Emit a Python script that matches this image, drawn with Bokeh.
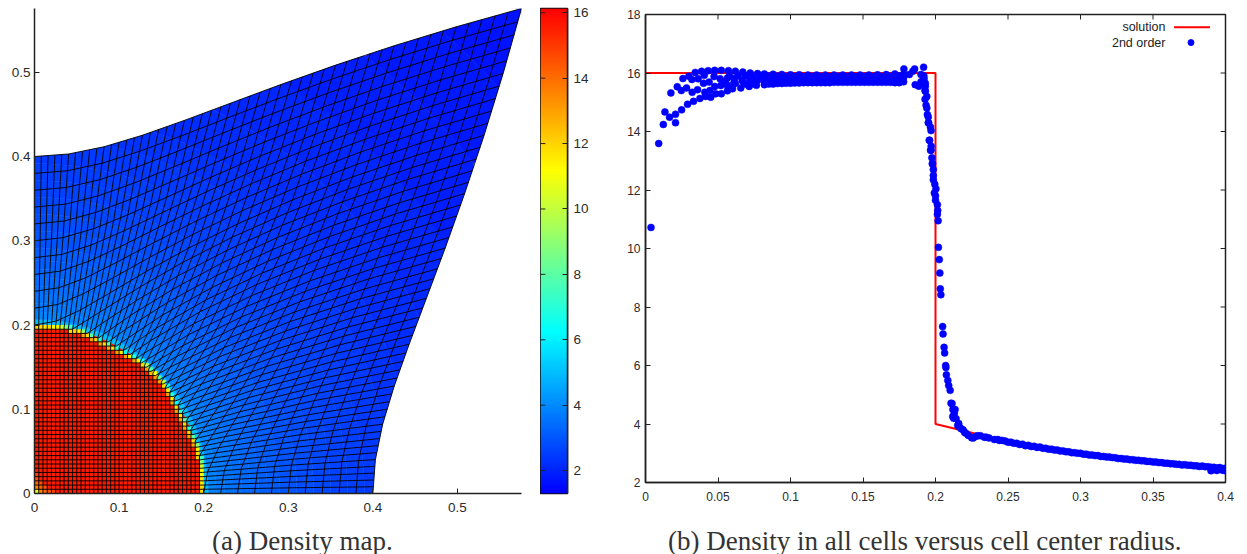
# Values below are typed estimates.
# The mesh is shown as sparse hand-placed polyline vertices; the reference's
# x/y symmetry is used by drawing each typed line a second time with x and y swapped.
import numpy as np
from bokeh.plotting import figure
from bokeh.layouts import row, column
from bokeh.embed import file_html
from bokeh.resources import INLINE
from bokeh.models import ColumnDataSource, LinearColorMapper, Range1d, FixedTicker, Label, Div

# ---------- left panel: mesh lines (one family, bottom row to top row) ----------
mesh_x = [
 [0,.4],
 [0,.2,.3002,.4001],
 [0,.2,.3006,.4005],
 [0,.1995,.2017,.3013,.4011],
 [0,.199,.203,.3024,.4019],
 [0,.1985,.2046,.3037,.403],
 [0,.1978,.2066,.3053,.4043],
 [0,.1969,.209,.3072,.4058],
 [0,.196,.2117,.3093,.4076],
 [0,.1949,.2146,.3117,.4094],
 [0,.1936,.2179,.3143,.4116],
 [0,.1923,.2214,.3172,.414],
 [0,.1908,.2253,.3202,.4166],
 [0,.1892,.2294,.3236,.4193],
 [0,.1873,.2337,.3272,.4222],
 [0,.1854,.2382,.3308,.4253],
 [0,.1833,.2429,.3347,.4286],
 [0,.1811,.2478,.3387,.4319],
 [0,.1786,.2528,.343,.4355],
 [0,.176,.258,.3473,.4393],
 [0,.1732,.1791,.2634,.3517,.4429],
 [0,.1702,.1856,.2688,.3563,.4468],
 [0,.167,.192,.2742,.361,.4508],
 [0,.1637,.1986,.2798,.3658,.4549],
 [0,.16,.2052,.2855,.3706,.4591],
 [0,.1561,.2118,.2912,.3755,.4633],
 [0,.152,.2183,.297,.3805,.4677],
 [0,.1475,.154,.2249,.3027,.3856,.4721],
 [0,.1429,.1614,.2315,.3085,.3906,.4765],
 [0,.1377,.1687,.2379,.3142,.3957,.481],
 [0,.1323,.1757,.2444,.32,.4008,.4855],
 [0,.1264,.1828,.2508,.3258,.4059,.4901],
 [0,.12,.1306,.1896,.2572,.3314,.411,.4946],
 [0,.113,.1377,.1964,.2634,.3372,.4162,.4992],
 [0,.1054,.1446,.203,.2696,.3429,.4213,.5038],
 [0,.0968,.1023,.1513,.2095,.2757,.3485,.4264,.5085],
 [0,.0872,.1086,.1578,.2159,.2818,.354,.4315,.5131],
 [0,.076,.1147,.1641,.2221,.2877,.3595,.4365,.5177],
 [0,.0624,.0797,.1206,.1703,.2282,.2935,.365,.4415,.5223],
 [0,.0445,.051,.0846,.1262,.1762,.2341,.2993,.3704,.4465,.5269],
 [0,.0256,.0545,.0893,.1317,.182,.24,.3049,.3758,.4515,.5315],
 [0,.0274,.0578,.0939,.137,.1876,.2456,.3105,.381,.4565,.536],
 [0,.0291,.061,.0982,.142,.1931,.2512,.3159,.3862,.4614,.5406],
 [0,.0307,.0641,.1024,.147,.1985,.2567,.3212,.3914,.4662,.5451],
 [0,.0323,.067,.1064,.1517,.2036,.262,.3265,.3964,.471,.5495],
 [0,.0337,.0698,.1103,.1563,.2086,.2672,.3317,.4014,.4757,.554],
 [0,.0352,.0725,.114,.1608,.2135,.2722,.3367,.4063,.4804,.5584],
 [0,.0365,.0751,.1176,.1651,.2183,.2772,.3417,.4111,.4851,.5628],
 [0,.0378,.0776,.1211,.1692,.2229,.282,.3465,.4158,.4897,.5672],
 [0,.0391,.08,.1244,.1732,.2273,.2867,.3513,.4206,.4942,.5715],
 [0,.0403,.0823,.1276,.1772,.2317,.2913,.356,.4252,.4986,.5757],
]
mesh_y = [
 [0,0],
 [.005,.005,.0067,.008],
 [.01,.01,.0134,.016],
 [.015,.015,.0151,.0201,.0241],
 [.02,.02,.0203,.0269,.0322],
 [.025,.025,.0256,.0337,.0403],
 [.03,.03,.031,.0407,.0485],
 [.035,.035,.0366,.0478,.0568],
 [.04,.04,.0423,.055,.0652],
 [.045,.045,.0483,.0623,.0737],
 [.05,.05,.0545,.0698,.0823],
 [.055,.055,.0609,.0775,.0911],
 [.06,.06,.0676,.0854,.1],
 [.065,.065,.0745,.0935,.109],
 [.07,.07,.0818,.1018,.1182],
 [.075,.075,.0893,.1103,.1276],
 [.08,.08,.0971,.119,.1371],
 [.085,.085,.1053,.128,.1468],
 [.09,.09,.1138,.1372,.1568],
 [.095,.095,.1226,.1466,.1669],
 [.1,.1,.1023,.1317,.1563,.1772],
 [.105,.105,.1113,.1411,.1663,.1877],
 [.11,.11,.1207,.1508,.1765,.1984],
 [.115,.115,.1305,.1609,.1869,.2093],
 [.12,.12,.1407,.1713,.1976,.2204],
 [.125,.125,.1513,.182,.2086,.2317],
 [.13,.13,.1622,.193,.2199,.2432],
 [.135,.135,.1386,.1735,.2043,.2313,.2549],
 [.14,.14,.1506,.1852,.2159,.243,.2668],
 [.145,.145,.163,.1971,.2278,.255,.279],
 [.15,.15,.1757,.2095,.24,.2672,.2913],
 [.155,.155,.1889,.2221,.2525,.2796,.3039],
 [.16,.16,.1671,.2022,.2351,.2652,.2923,.3165],
 [.165,.165,.1818,.2161,.2484,.2782,.3052,.3295],
 [.17,.17,.1966,.23,.2619,.2914,.3183,.3426],
 [.175,.175,.1791,.2118,.2444,.2757,.3049,.3317,.356],
 [.18,.18,.1955,.2272,.2591,.2898,.3186,.3452,.3694],
 [.185,.185,.2122,.2428,.2739,.3041,.3326,.3589,.3831],
 [.19,.19,.2019,.2291,.2588,.289,.3187,.3467,.3729,.397],
 [.195,.195,.1988,.22,.2461,.2749,.3044,.3335,.3611,.387,.411],
 [.2,.2046,.2179,.2382,.2634,.2912,.32,.3485,.3758,.4014,.4252],
 [.22,.2244,.2371,.2566,.2808,.3077,.3357,.3637,.3906,.4159,.4395],
 [.24,.2443,.2563,.275,.2983,.3245,.3517,.3791,.4056,.4307,.4541],
 [.26,.264,.2756,.2935,.316,.3413,.3679,.3947,.4207,.4455,.4688],
 [.28,.2838,.2949,.3121,.3338,.3583,.3842,.4104,.436,.4605,.4836],
 [.3,.3037,.3143,.3308,.3517,.3755,.4008,.4264,.4515,.4757,.4986],
 [.32,.3235,.3337,.3495,.3697,.3927,.4174,.4425,.4673,.4911,.5137],
 [.34,.3435,.3532,.3685,.3879,.4103,.4343,.4588,.4831,.5067,.529],
 [.36,.3633,.3726,.3874,.4062,.4279,.4512,.4752,.499,.5223,.5445],
 [.38,.3831,.3921,.4063,.4244,.4455,.4682,.4918,.5152,.5381,.56],
 [.4,.403,.4116,.4253,.4429,.4633,.4855,.5085,.5315,.554,.5757],
]

# density bands by radius from the corner at the origin
band_inner = [0,.2,.206,.215,.225,.235,.245,.255,.265,.275,.29,.31,.33,.35,.37,.39,.42,.45,.5]
band_outer = [.2,.206,.215,.225,.235,.245,.255,.265,.275,.29,.31,.33,.35,.37,.39,.42,.45,.5,.57]
band_rho = [15.6,5.0,3.85,3.7,3.58,3.47,3.37,3.28,3.2,3.1,2.95,2.83,2.72,2.62,2.54,2.44,2.34,2.22,2.06]

# far regions towards the top right corner of the mesh
far_x = [[.4936,.4522,.403,.347,.285,.3,.391,.4264,.4596,.4906,.519,.53],
         [.519,.4906,.4596,.4264,.391,.4594,.4885,.5162,.5425,.5673],
         [.5673,.5425,.5162,.4885,.4594,.5757]]
far_y = [[.285,.347,.403,.4522,.4936,.53,.519,.4906,.4596,.4264,.391,.3],
         [.391,.4264,.4596,.4906,.519,.5673,.5425,.5162,.4885,.4594],
         [.4594,.4885,.5162,.5425,.5673,.5757]]
far_rho = [1.93,1.8,1.65]

# individually coloured cells at the density jump and in the corner at the origin
cell_x = [.1975,.1975,.1975,.1975,.1975,.1975,.1975,.1975,.1975,.1925,.1925,.1925,.1925,.1875,.1875,.1875,
          .1825,.1825,.1825,.1775,.1775,.1775,.1725,.1725,.1725,.1675,.1675,.1675,.1625,.1625,.1625,.1575,.1575,.1575,
          .1525,.1475,.1525,.1425,.1475,.1425,.1375,
          .0025,.0075,.0125,.0075,.0175,.0125,.0225]
cell_y = [.0025,.0075,.0125,.0175,.0225,.0275,.0325,.0375,.0425,.0425,.0475,.0525,.0575,.0575,.0625,.0675,
          .0675,.0725,.0775,.0775,.0825,.0875,.0875,.0925,.0975,.0975,.1025,.1075,.1075,.1125,.1175,.1175,.1225,.1275,
          .1275,.1325,.1325,.1375,.1375,.1425,.1425,
          .0025,.0025,.0025,.0075,.0025,.0075,.0025]
cell_rho = [12,12,11.6,11.8,11,11.4,10.2,8.8,7.5,12,12,11.5,9,13,12,8,13,12,7,13,12,8,13,11.7,7,13,11.6,6.5,13,11.5,7,13,11.5,6.5,
            12,13,10,12.5,8,11,13,
            10.7,13.6,14.2,14.3,14.6,14.6,14.9]

cbar_low, cbar_high = 1.3, 16.13
cbar_ticks = [2,4,6,8,10,12,14,16]
map_ticks = [0,.1,.2,.3,.4,.5]
map_labels = ["0","0.1","0.2","0.3","0.4","0.5"]

# ---------- right panel ----------
sol_x = [0,.2,.2,.25,.3,.35,.4]
sol_y = [16,16,4,3.4,3,2.71,2.5]

dots_x = [.0038,.0091,.0123,.0134,.0166,.0207,.0207,.0175,.0249,.0219,.0247,.029,.0283,.0258,.0299,.032,.0322,.0331,.0343,.0363,
 .0359,.0375,.0387,.04,.0405,.0409,.0414,.0432,.0439,.0444,.045,.0477,.0473,.0477,.0484,.0523,.0515,.0519,.0523,.0572,
 .0565,.0561,.0565,.062,.0611,.0607,.06,.0671,.0667,.0657,.0722,.0719,.0715,.0773,.0773,.0765,
 .082,.082,.082,.082,.088,.088,.088,.088,.094,.094,.094,.094,.1,.1,.1,.1,.106,.106,.106,.106,.112,.112,.112,.112,
 .118,.118,.118,.118,.124,.124,.124,.124,.13,.13,.13,.13,.136,.136,.136,.136,.142,.142,.142,.142,.148,.148,.148,.148,
 .154,.154,.154,.154,.16,.16,.16,.16,.166,.166,.166,.166,.172,.172,.172,.172,.178,.178,.178,
 .1782,.1856,.1844,.1918,.182,.186,.1885,.19,.192,.19,.193,.1921,.1928,.193,.1928,.194,.1935,.1944,.1953,.195,.1969,.1959,.1957,.1966,.1969,
 .1978,.198,.1985,.1985,.1992,.2003,.2,.2013,.2013,.2018,.202,.2026,.203,.2033,.2037,.2049,.2052,.2059,.2063,.207,.2072,.2075,.2085,.2091,.2101,
 .2107,.2114,.213,.2119,.2142,.2153,.2177,.22,.2227,.2249,.2291,.2337,.2406,.2441,
 .248,.252,.256,.26,.264,.268,.272,.276,.28,.284,.288,.292,.296,.3,.304,.308,.312,.316,.32,.324,.328,.332,.336,.34,.344,.348,.352,.356,.36,.364,.368,.372,.376,.38,.384,.388,.392,.396,.4,
 .39,.394,.398,.4,.397,
 # band fill-in
 .055,.058,.064,.069,.07,.074,.075,.08,.062,.068,
 .085,.085,.085,.085,.091,.091,.091,.091,.097,.097,.097,.097,.103,.103,.103,.103,.109,.109,.109,.109,.115,.115,.115,.115,
 .121,.121,.121,.121,.127,.127,.127,.127,.133,.133,.133,.133,.139,.139,.139,.139,.145,.145,.145,.145,.151,.151,.151,.151,
 .157,.157,.157,.157,.163,.163,.163,.163,.169,.169,.169,.169,.175,.175,.175,.175,
 .193,.194,.195,.1965,.197,.1975,.1985,.1995,.2,.2015,
 .2135,.212,.2125,.216,.2165,.219,.221,.226,.228,.231,.235,.237,.243,.246,
 .25,.254,.258,.262,.266,.27,.274,.278,.282,.286,.29,.294,.298,.302,.306,.31,.314,.318,.322,.326,.33,.334,.338,.342,.346,.35,.354,.358,.362,.366,.37,.374,.378,.382,.386,.39,.394,.398]
dots_y = [10.72,13.59,14.24,14.67,14.49,14.59,14.3,15.32,14.74,15.53,15.4,14.93,15.49,15.81,15.89,15.78,15.34,15.03,16.02,15.8,
 15.43,15.13,16.06,15.65,15.92,15.34,15.2,16.08,15.69,15.4,15.17,16.09,15.88,15.54,15.29,16.09,15.8,15.57,15.29,16.08,
 15.83,15.6,15.39,16.06,15.8,15.63,15.46,16.03,15.74,15.49,16.0,15.74,15.54,15.98,15.75,15.58,
 15.97,15.85,15.72,15.6,15.96,15.84,15.73,15.62,15.95,15.84,15.74,15.64,15.94,15.84,15.74,15.65,15.94,15.83,15.74,15.66,15.93,15.83,15.75,15.67,
 15.93,15.83,15.75,15.67,15.93,15.83,15.75,15.67,15.93,15.83,15.75,15.68,15.93,15.83,15.75,15.68,15.93,15.83,15.75,15.68,15.93,15.83,15.75,15.68,
 15.93,15.83,15.75,15.68,15.94,15.83,15.75,15.68,15.95,15.84,15.75,15.68,15.97,15.84,15.75,15.67,15.96,15.84,15.7,
 16.14,16.14,16.06,16.2,15.95,15.6,15.55,15.7,15.9,15.95,15.65,15.8,15.4,15.38,15.1,14.8,14.9,14.58,14.3,14.3,14.03,13.7,13.7,13.36,13.36,
 12.9,12.9,12.5,12.35,11.9,12.04,11.8,11.5,11.17,10.95,10.04,9.62,9.16,8.62,8.42,7.33,7.08,6.62,6.43,6.0,5.93,5.68,5.49,5.32,5.15,
 4.71,4.7,4.36,4.26,4.18,3.95,3.84,3.72,3.61,3.53,3.6,3.55,3.47,3.44,
 3.42,3.38,3.34,3.31,3.27,3.24,3.21,3.17,3.14,3.11,3.08,3.05,3.02,3.0,2.97,2.94,2.92,2.89,2.87,2.85,2.82,2.8,2.78,2.76,2.74,2.72,2.7,2.68,2.66,2.64,2.62,2.61,2.59,2.57,2.56,2.54,2.52,2.51,2.49,
 2.4,2.41,2.42,2.4,2.45,
 15.7,15.9,15.9,15.9,15.62,15.85,15.62,15.9,15.65,15.62,
 15.9,15.8,15.7,15.62,15.89,15.8,15.71,15.64,15.88,15.79,15.72,15.65,15.88,15.79,15.72,15.66,15.88,15.79,15.72,15.67,15.88,15.79,15.72,15.67,
 15.88,15.79,15.72,15.67,15.88,15.79,15.72,15.67,15.88,15.79,15.72,15.68,15.88,15.79,15.72,15.68,15.88,15.79,15.72,15.68,15.88,15.79,15.72,15.68,
 15.88,15.79,15.72,15.68,15.88,15.79,15.72,15.68,15.89,15.79,15.72,15.68,15.9,15.8,15.72,15.67,
 15.55,15.2,14.5,14.15,13.5,13.1,12.7,12.2,11.65,11.3,
 4.5,4.5,4.2,4.02,3.9,3.8,3.68,3.52,3.58,3.6,3.55,3.52,3.47,3.44,
 3.38,3.34,3.3,3.26,3.23,3.2,3.17,3.14,3.11,3.08,3.05,3.02,3.0,2.97,2.94,2.92,2.89,2.87,2.85,2.82,2.8,2.78,2.76,2.74,2.72,2.7,2.68,2.66,2.64,2.62,2.6,2.59,2.57,2.55,2.54,2.52,2.5,2.48]

scatter_xticks = [0,.05,.1,.15,.2,.25,.3,.35,.4]
scatter_xlabels = ["0","0.05","0.1","0.15","0.2","0.25","0.3","0.35","0.4"]
scatter_yticks = [2,4,6,8,10,12,14,16,18]

# colour ramp: blue, cyan, yellow, red
stops = np.array([[0,0,255],[0,255,255],[255,255,0],[255,0,0]], float)
t = np.linspace(0, 3, 256)
palette = ["#%02x%02x%02x" % tuple(int(round(np.interp(v, [0,1,2,3], stops[:,c]))) for c in range(3)) for v in t]
mapper = LinearColorMapper(palette=palette, low=cbar_low, high=cbar_high)
cell_col = [palette[int((r-cbar_low)/(cbar_high-cbar_low)*255)] for r in cell_rho]

SANS = "Liberation Sans"; SERIF = "Liberation Serif"; INK = "#2b2b2b"
FIG_H = 522

def style_axis(ax, size):
    ax.major_label_text_font = SANS
    ax.major_label_text_font_size = size
    ax.major_label_text_color = INK
    ax.major_tick_in = 5; ax.major_tick_out = 0
    ax.minor_tick_line_color = None
    ax.major_tick_line_color = "#222222"
    ax.axis_line_color = "#222222"
    ax.axis_line_width = 1.5

def caption(txt, left, width):
    return Div(text=txt, width=width, height=26, margin=(6, 0, 0, left),
               styles={"font-family": SERIF, "font-size": "27px", "color": "#333333",
                       "line-height": "26px", "white-space": "nowrap"})

# ---------- density map ----------
p1 = figure(width=540, height=FIG_H, x_range=Range1d(0, .5757), y_range=Range1d(0, .5757),
            output_backend="svg", toolbar_location=None, frame_align=False,
            min_border_left=34, min_border_right=19, min_border_top=8, min_border_bottom=29,
            background_fill_color="white", border_fill_color="white", outline_line_color=None)
p1.grid.visible = False
band_src = ColumnDataSource(dict(inner=band_inner, outer=band_outer, rho=band_rho,
                                 cx=[0]*len(band_rho), cy=[0]*len(band_rho)))
colour = dict(field="rho", transform=mapper)
p1.annular_wedge(x="cx", y="cy", inner_radius="inner", outer_radius="outer", start_angle=0, end_angle=np.pi/2,
                 source=band_src, fill_color=colour, line_color=colour, line_width=.5)
p1.patches("xs", "ys", source=ColumnDataSource(dict(xs=far_x, ys=far_y, rho=far_rho)),
           fill_color=colour, line_color=colour, line_width=.5)
p1.rect(x=cell_x, y=cell_y, width=.005, height=.005, fill_color=cell_col, line_color=None)
p1.rect(x=cell_y, y=cell_x, width=.005, height=.005, fill_color=cell_col, line_color=None)
# white area outside the mesh, bounded by the mesh's top and right edge lines
top_x, top_y = mesh_x[-1], mesh_y[-1]
p1.patch(list(top_x)+list(top_y[::-1])+[.9,.9,0], list(top_y)+list(top_x[::-1])+[0,.9,.9],
         fill_color="white", line_color=None)
p1.multi_line(mesh_x, mesh_y, line_color="black", line_width=.9)
p1.multi_line(mesh_y, mesh_x, line_color="black", line_width=.9)
for ax in (p1.xaxis[0], p1.yaxis[0]):
    style_axis(ax, "13.5px")
    ax.ticker = FixedTicker(ticks=map_ticks)
    ax.major_label_overrides = dict(zip(map_ticks, map_labels))
p1.yaxis[0].major_label_standoff = 4
p1.xaxis[0].major_label_standoff = 9

# ---------- colour bar ----------
cb = figure(width=63, height=FIG_H, x_range=Range1d(0, 1), y_range=Range1d(cbar_low, cbar_high),
            output_backend="svg", toolbar_location=None, y_axis_location="right", frame_align=False,
            min_border_left=0, min_border_right=36, min_border_top=8, min_border_bottom=29,
            outline_line_color="#111111", outline_line_width=1.5)
cb.grid.visible = False
cb.xaxis.visible = False
cb.image(image=[np.linspace(cbar_low, cbar_high, 256).reshape(-1, 1)], x=0, y=cbar_low, dw=1, dh=cbar_high-cbar_low,
         color_mapper=mapper)
style_axis(cb.yaxis[0], "13.5px")
cb.yaxis[0].ticker = FixedTicker(ticks=cbar_ticks)
cb.yaxis[0].major_label_standoff = 6
cb.segment(x0=[0]*len(cbar_ticks), x1=[.18]*len(cbar_ticks), y0=cbar_ticks, y1=cbar_ticks, line_color="#222222", line_width=1)

# ---------- scatter ----------
p2 = figure(width=636, height=FIG_H, x_range=Range1d(0, .4), y_range=Range1d(2, 18),
            output_backend="svg", toolbar_location=None, frame_align=False,
            min_border_left=42, min_border_right=14, min_border_top=14, min_border_bottom=40,
            outline_line_color="#222222", outline_line_width=1.5)
p2.grid.visible = False
p2.line(sol_x, sol_y, line_color="#ff0000", line_width=2)
p2.scatter(dots_x, dots_y, marker="circle", size=7, fill_color="#0000ff", line_color="#0000ff", line_width=.5)
style_axis(p2.xaxis[0], "12px"); style_axis(p2.yaxis[0], "12px")
p2.xaxis[0].ticker = FixedTicker(ticks=scatter_xticks)
p2.xaxis[0].major_label_overrides = dict(zip(scatter_xticks, scatter_xlabels))
p2.xaxis[0].major_label_standoff = 9
p2.yaxis[0].ticker = FixedTicker(ticks=scatter_yticks)
p2.yaxis[0].major_label_standoff = 5
# mirrored tick marks on the top and right frame edges
p2.segment(x0=scatter_xticks, x1=scatter_xticks, y0=[18]*9, y1=[17.83]*9, line_color="#222222", line_width=1)
p2.segment(x0=[.4]*9, x1=[.3966]*9, y0=scatter_yticks, y1=scatter_yticks, line_color="#222222", line_width=1)
p2.line([.3645, .3893], [17.56, 17.56], line_color="#ff0000", line_width=2)
p2.scatter([.3762], [17.04], marker="circle", size=6, fill_color="#0000ff", line_color="#0000ff")
for txt, yy in (("solution", 17.56), ("2nd order", 17.04)):
    p2.add_layout(Label(x=.3586, y=yy, text=txt, text_font=SANS, text_font_size="12.5px", text_color="#222222",
                        text_align="right", text_baseline="middle"))

captions = row(caption("(a) Density map.", 212, 200),
               caption("(b) Density in all cells versus cell center radius.", 256, 520))
page = column(row(p1, cb, p2), captions)
open("out.html", "w").write(file_html(page, INLINE))
